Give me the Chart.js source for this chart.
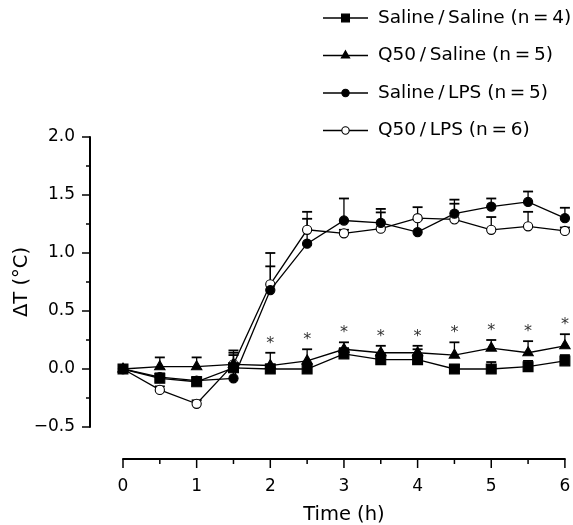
<!DOCTYPE html>
<html>
<head>
<meta charset="utf-8">
<script src="https://cdn.jsdelivr.net/npm/chart.js@4/dist/chart.umd.min.js"></script>
<style>
  body { margin: 0; background: #fff; }
</style>
</head>
<body>
<canvas id="tempChart" width="573" height="525"></canvas>
<script>
// time points (h)
const times = [0, 0.5, 1, 1.5, 2, 2.5, 3, 3.5, 4, 4.5, 5, 5.5, 6];

// mean delta T and upper error (SEM) per group
const salineSaline    = [0, -0.08, -0.11, 0.01, 0, 0, 0.13, 0.08, 0.08, 0, 0, 0.02, 0.07];
const salineSalineErr = [0, 0.04, 0.04, 0.11, 0.04, 0.04, 0.05, 0.05, 0.09, 0.03, 0.06, 0.05, 0.05];
const q50Saline       = [0, 0.02, 0.02, 0.04, 0.03, 0.07, 0.17, 0.14, 0.14, 0.12, 0.18, 0.14, 0.2];
const q50SalineErr    = [0, 0.08, 0.08, 0.1, 0.11, 0.1, 0.06, 0.06, 0.06, 0.11, 0.07, 0.1, 0.1];
const salineLPS       = [0, -0.07, -0.1, -0.08, 0.68, 1.08, 1.28, 1.26, 1.18, 1.34, 1.4, 1.44, 1.3];
const salineLPSErr    = [0, 0.03, 0.03, 0.1, 0.205, 0.215, 0.19, 0.12, 0.11, 0.12, 0.07, 0.09, 0.09];
const q50LPS          = [0, -0.18, -0.3, 0.04, 0.73, 1.2, 1.17, 1.21, 1.3, 1.29, 1.2, 1.23, 1.19];
const q50LPSErr       = [0, 0.03, 0.03, 0.12, 0.27, 0.155, 0.03, 0.14, 0.095, 0.135, 0.11, 0.125, 0.03];

// significance marks shown above Q50/Saline
const significance = ['', '', '', '', '*', '*', '*', '*', '*', '*', '*', '*', '*'];

const labels = [
    "Saline\u2009/\u2009Saline (n\u2009=\u20094)",
    "Q50\u2009/\u2009Saline (n\u2009=\u20095)",
    "Saline\u2009/\u2009LPS (n\u2009=\u20095)",
    "Q50\u2009/\u2009LPS (n\u2009=\u20096)"
];

const yTicks = [-0.5, 0, 0.5, 1, 1.5, 2];
const yMinorTicks = [-0.25, 0.25, 0.75, 1.25, 1.75];
const xTicks = [0, 1, 2, 3, 4, 5, 6];
const xMinorTicks = [0.5, 1.5, 2.5, 3.5, 4.5, 5.5];

const fontFamily = "'DejaVu Sans', sans-serif";
Chart.defaults.color = "#000";
Chart.defaults.font.family = fontFamily;

function toPoints(values) {
    return times.map((t, i) => ({ x: t, y: values[i] }));
}

function makeSet(label, values, errors, style, radius, fill) {
    return {
        label,
        data: toPoints(values),
        errors,
        borderColor: "#000",
        borderWidth: 1.3,
        pointStyle: style,
        pointRadius: radius,
        pointBackgroundColor: fill,
        pointBorderColor: "#000",
        pointBorderWidth: 1.1,
        tension: 0,
        clip: false
    };
}

const datasets = [
    makeSet(labels[0], salineSaline, salineSalineErr, "rect", 7, "#000"),
    makeSet(labels[1], q50Saline, q50SalineErr, "triangle", 6, "#000"),
    makeSet(labels[2], salineLPS, salineLPSErr, "circle", 4.6, "#000"),
    makeSet(labels[3], q50LPS, q50LPSErr, "circle", 4.6, "#fff")
];

// upward error bars, under the markers
const errorBars = {
    id: "errorBars",
    beforeDatasetsDraw(chart) {
        const { ctx, scales: { y } } = chart;
        ctx.save();
        ctx.strokeStyle = "#000";
        chart.data.datasets.forEach((ds, i) => {
            const meta = chart.getDatasetMeta(i);
            meta.data.forEach((pt, j) => {
                const err = ds.errors[j];
                if (!err) return;
                const top = y.getPixelForValue(ds.data[j].y + err);
                ctx.lineWidth = 1.3;
                ctx.beginPath();
                ctx.moveTo(pt.x, pt.y);
                ctx.lineTo(pt.x, top);
                ctx.stroke();
                ctx.lineWidth = 1.8;
                ctx.beginPath();
                ctx.moveTo(pt.x - 5, top);
                ctx.lineTo(pt.x + 5, top);
                ctx.stroke();
            });
        });
        ctx.restore();
    },
    afterDatasetsDraw(chart) {
        const { ctx, scales: { y } } = chart;
        const ds = chart.data.datasets[1];
        const meta = chart.getDatasetMeta(1);
        ctx.save();
        ctx.fillStyle = "#333";
        ctx.font = "16px " + fontFamily;
        ctx.textAlign = "center";
        ctx.textBaseline = "middle";
        meta.data.forEach((pt, j) => {
            if (!significance[j]) return;
            const top = y.getPixelForValue(ds.data[j].y + ds.errors[j]);
            ctx.fillText(significance[j], pt.x, top - 9);
        });
        ctx.restore();
    }
};

// detached axis lines with major and minor ticks
const detachedAxes = {
    id: "detachedAxes",
    afterDraw(chart) {
        const { ctx, chartArea, scales: { x, y } } = chart;
        const axisX = chartArea.left - 33;
        const axisY = chartArea.bottom + 32;
        const seg = (x1, y1, x2, y2) => {
            ctx.beginPath();
            ctx.moveTo(x1, y1);
            ctx.lineTo(x2, y2);
            ctx.stroke();
        };
        ctx.save();
        ctx.strokeStyle = "#000";
        ctx.lineWidth = 2;
        seg(axisX, y.getPixelForValue(yTicks[yTicks.length - 1]) - 0.75, axisX, y.getPixelForValue(yTicks[0]) + 0.75);
        seg(x.getPixelForValue(xTicks[0]) - 0.75, axisY, x.getPixelForValue(xTicks[xTicks.length - 1]) + 0.75, axisY);
        ctx.lineWidth = 1.5;
        yTicks.forEach(v => seg(axisX - 8, y.getPixelForValue(v), axisX, y.getPixelForValue(v)));
        yMinorTicks.forEach(v => seg(axisX - 4, y.getPixelForValue(v), axisX, y.getPixelForValue(v)));
        xTicks.forEach(v => seg(x.getPixelForValue(v), axisY, x.getPixelForValue(v), axisY + 9));
        xMinorTicks.forEach(v => seg(x.getPixelForValue(v), axisY, x.getPixelForValue(v), axisY + 5));
        ctx.restore();
    }
};

// stacked legend at top right: line with marker, then label
const stackedLegend = {
    id: "stackedLegend",
    afterDraw(chart) {
        const { ctx } = chart;
        const lineStart = 323, lineEnd = 368, textX = 378;
        ctx.save();
        ctx.font = "18.5px " + fontFamily;
        ctx.textBaseline = "middle";
        chart.data.datasets.forEach((ds, i) => {
            const rowY = 18 + i * 37.5;
            ctx.strokeStyle = "#000";
            ctx.lineWidth = 1.3;
            ctx.beginPath();
            ctx.moveTo(lineStart, rowY);
            ctx.lineTo(lineEnd, rowY);
            ctx.stroke();
            ctx.fillStyle = ds.pointBackgroundColor;
            ctx.lineWidth = 1.1;
            Chart.helpers.drawPoint(ctx, {
                pointStyle: ds.pointStyle,
                rotation: 0,
                radius: ds.pointRadius * 0.8,
                borderWidth: 1.1
            }, (lineStart + lineEnd) / 2, rowY);
            ctx.fillStyle = "#000";
            ctx.fillText(ds.label, textX, rowY);
        });
        ctx.restore();
    }
};

const fmt = v => v.toFixed(1).replace("-", "\u2212");

const chart = new Chart(document.getElementById("tempChart"), {
    type: "line",
    data: { datasets },
    options: {
        responsive: false,
        animation: false,
        layout: { padding: { top: 137, right: 6, bottom: 0, left: 0 } },
        plugins: { legend: { display: false }, tooltip: { enabled: false } },
        scales: {
            x: {
                type: "linear",
                min: 0,
                max: 6,
                grid: { display: false, drawTicks: false },
                border: { display: false },
                afterBuildTicks: s => { s.ticks = xTicks.map(v => ({ value: v })); },
                afterFit: s => { s.height = 98; s.paddingLeft = 0; s.paddingRight = 0; },
                ticks: { padding: 49, font: { size: 17 }, callback: v => String(v) },
                title: { display: true, text: "Time (h)", font: { size: 19.5 }, padding: { top: 0, bottom: -2 } }
            },
            y: {
                min: -0.5,
                max: 2,
                grid: { display: false, drawTicks: false },
                border: { display: false },
                afterBuildTicks: s => { s.ticks = yTicks.map(v => ({ value: v })); },
                afterFit: s => { s.width = 123; s.paddingTop = 0; s.paddingBottom = 0; },
                ticks: { padding: 48, font: { size: 17 }, callback: fmt },
                title: { display: true, text: "\u0394T (\u00b0C)", font: { size: 19.5 }, padding: { top: 10, bottom: 0 } }
            }
        }
    },
    plugins: [errorBars, detachedAxes, stackedLegend]
});
</script>
</body>
</html>
